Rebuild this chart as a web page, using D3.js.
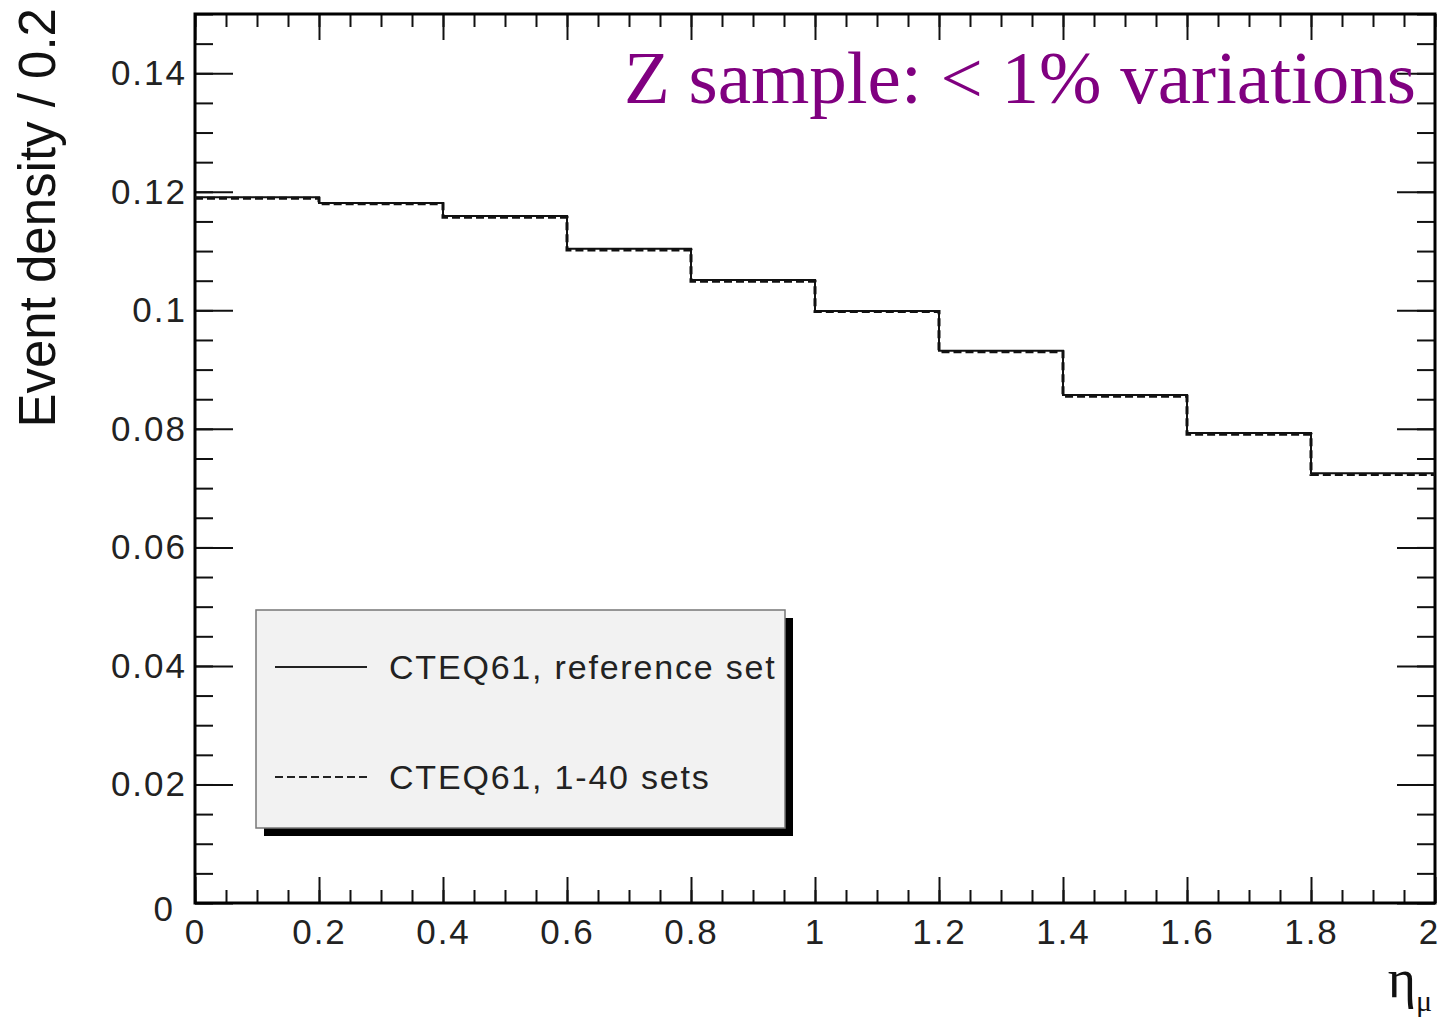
<!DOCTYPE html>
<html>
<head>
<meta charset="utf-8">
<script src="https://cdn.jsdelivr.net/npm/d3@7"></script>
<style>
  body { margin: 0; background: #fff; }
  .tick text { font-family: "Liberation Sans", Arial, sans-serif; }
</style>
</head>
<body>
<div class="canva"></div>
<script>
// bins in eta_mu, 0.2 wide
const binEdges = [0, 0.2, 0.4, 0.6, 0.8, 1.0, 1.2, 1.4, 1.6, 1.8, 2.0];
const refSet  = [0.1191, 0.1181, 0.1159, 0.1104, 0.1051, 0.0999, 0.0932, 0.0857, 0.0793, 0.0725];
const sets140 = [0.1189, 0.1180, 0.1157, 0.1102, 0.1049, 0.0998, 0.0930, 0.0855, 0.0791, 0.0723];
const xMajor = d3.range(0, 2.001, 0.2);
const xMinor = d3.range(0, 2.001, 0.05);
const yMajor = d3.range(0, 0.1401, 0.02);
const yMinor = d3.range(0, 0.1501, 0.005);
const legendLabels = ["CTEQ61, reference set", "CTEQ61, 1-40 sets"];

const W = 1444, H = 1021;
const svg = d3.select(".canva").append("svg")
    .attr("width", W)
    .attr("height", H);

const margin = {top: 14, right: 9, bottom: 118, left: 195};

const x = d3.scaleLinear().domain([0, 2]).range([margin.left, W - margin.right]);
const y = d3.scaleLinear().domain([0, 0.15]).range([H - margin.bottom, margin.top]);

const fmt = d => d === 0 ? "0" : String(+d.toFixed(2));

// minor ticks on all four sides
svg.append("g").attr("transform", `translate(0,${y(0)})`)
    .call(d3.axisBottom(x).tickValues(xMinor).tickSize(-13).tickFormat(""));
svg.append("g").attr("transform", `translate(0,${y(0.15)})`)
    .call(d3.axisTop(x).tickValues(xMinor).tickSize(-13).tickFormat(""));
svg.append("g").attr("transform", `translate(${x(0)},0)`)
    .call(d3.axisLeft(y).tickValues(yMinor).tickSize(-18).tickFormat(""));
svg.append("g").attr("transform", `translate(${x(2)},0)`)
    .call(d3.axisRight(y).tickValues(yMinor).tickSize(-18).tickFormat(""));

// major ticks + labels
const xAxis = svg.append("g").attr("transform", `translate(0,${y(0)})`)
    .call(d3.axisBottom(x).tickValues(xMajor).tickSize(-26).tickPadding(16).tickFormat(fmt));
svg.append("g").attr("transform", `translate(0,${y(0.15)})`)
    .call(d3.axisTop(x).tickValues(xMajor).tickSize(-26).tickFormat(""));
const yAxis = svg.append("g").attr("transform", `translate(${x(0)},0)`)
    .call(d3.axisLeft(y).tickValues(yMajor).tickSize(-38).tickPadding(8).tickFormat(fmt));
svg.append("g").attr("transform", `translate(${x(2)},0)`)
    .call(d3.axisRight(y).tickValues(yMajor).tickSize(-38).tickFormat(""));

svg.selectAll(".domain").remove();
svg.selectAll(".tick line").attr("stroke", "#111").attr("stroke-width", 2);
svg.selectAll(".tick text")
    .attr("font-size", 35)
    .attr("letter-spacing", 2)
    .attr("fill", "#222");
// keep the last x label inside the page
xAxis.selectAll(".tick text").filter(d => d === 2).attr("dx", -6);
yAxis.selectAll(".tick text").filter(d => d === 0).attr("dx", -12).attr("dy", "0.5em");

// frame
svg.append("rect")
    .attr("x", x(0)).attr("y", y(0.15))
    .attr("width", x(2) - x(0)).attr("height", y(0) - y(0.15))
    .attr("fill", "none").attr("stroke", "#000").attr("stroke-width", 3);

// histograms
function histPath(vals) {
  const pts = vals.map((v, i) => [binEdges[i], v]);
  pts.push([binEdges[binEdges.length - 1], vals[vals.length - 1]]);
  return d3.line().x(d => x(d[0])).y(d => y(d[1])).curve(d3.curveStepAfter)(pts);
}
svg.append("path").attr("d", histPath(refSet))
    .attr("fill", "none").attr("stroke", "#111").attr("stroke-width", 2);
svg.append("path").attr("d", histPath(sets140))
    .attr("fill", "none").attr("stroke", "#111").attr("stroke-width", 3)
    .attr("stroke-dasharray", "8,4");

// legend
const lg = {x: 256, y: 610, w: 529, h: 218};
svg.append("rect").attr("x", lg.x + 8).attr("y", lg.y + 8)
    .attr("width", lg.w).attr("height", lg.h).attr("fill", "#000");
svg.append("rect").attr("x", lg.x).attr("y", lg.y)
    .attr("width", lg.w).attr("height", lg.h)
    .attr("fill", "#f2f2f2").attr("stroke", "#777").attr("stroke-width", 1.5);

const dashes = [null, "8,4"];
legendLabels.forEach((lab, i) => {
  const ly = lg.y + 57 + i * 110;
  svg.append("line")
      .attr("x1", lg.x + 19).attr("x2", lg.x + 111)
      .attr("y1", ly).attr("y2", ly)
      .attr("stroke", "#222").attr("stroke-width", 1.8)
      .attr("stroke-dasharray", dashes[i]);
  svg.append("text")
      .attr("x", lg.x + 133).attr("y", ly)
      .attr("dy", "0.35em")
      .attr("font-family", "Liberation Sans, Arial, sans-serif")
      .attr("font-size", 34)
      .attr("letter-spacing", 1.8)
      .attr("fill", "#222")
      .text(lab);
});

// axis titles
svg.append("text")
    .attr("transform", `translate(55,8) rotate(-90)`)
    .attr("text-anchor", "end")
    .attr("font-family", "Liberation Sans, Arial, sans-serif")
    .attr("font-size", 51)
    .attr("fill", "#111")
    .text("Event density / 0.2");

const xt = svg.append("text")
    .attr("x", 1432).attr("y", 997)
    .attr("text-anchor", "end")
    .attr("font-family", "Liberation Serif, Times New Roman, serif")
    .attr("fill", "#111");
xt.append("tspan").attr("font-size", 54).text("η");
xt.append("tspan").attr("font-size", 30).attr("dy", 14).text("μ");

// annotation
svg.append("text")
    .attr("x", 1416).attr("y", 103)
    .attr("text-anchor", "end")
    .attr("font-family", "Liberation Serif, Times New Roman, serif")
    .attr("font-size", 75)
    .attr("fill", "#800080")
    .text("Z sample: < 1% variations");
</script>
</body>
</html>
